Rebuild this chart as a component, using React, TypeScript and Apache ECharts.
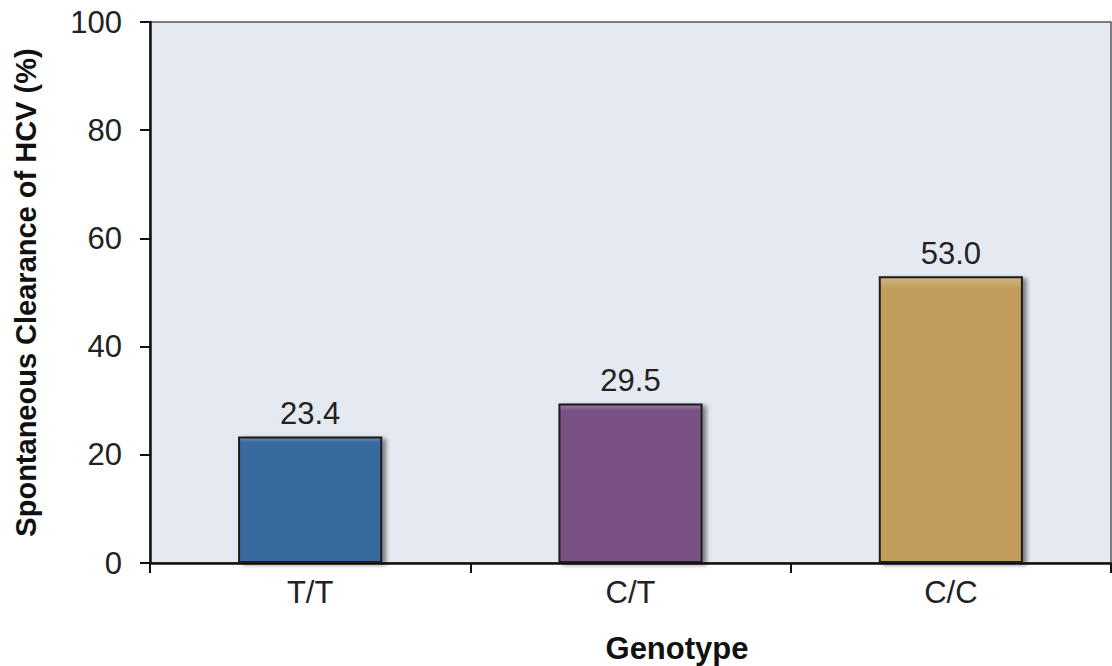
import React, { useEffect, useRef } from "react";
import * as echarts from "echarts";

const categories = ["T/T", "C/T", "C/C"];
const values = [23.4, 29.5, 53.0];
const barColors = ["#386a9f", "#7a5185", "#c19c5a"];
const yTicks = [0, 20, 40, 60, 80, 100];

const FONT = "Liberation Sans, Arial, sans-serif";

export default function App() {
  const ref = useRef<HTMLDivElement>(null);
  useEffect(() => {
    if (!ref.current) return;
    const chart = echarts.init(ref.current, null, { renderer: "svg" });
    chart.setOption({
      animation: false,
      backgroundColor: "#ffffff",
      grid: {
        left: 150,
        right: 1,
        top: 22,
        bottom: 103,
        show: true,
        backgroundColor: "#e5e9f1",
        borderColor: "#555555",
        borderWidth: 1.5,
      },
      xAxis: {
        type: "category",
        data: categories,
        axisLine: { lineStyle: { color: "#111", width: 2.5 } },
        axisTick: { show: true, length: 10, lineStyle: { color: "#111", width: 2 } },
        axisLabel: {
          color: "#222",
          fontSize: 31,
          fontFamily: FONT,
          margin: 14,
        },
      },
      yAxis: {
        type: "value",
        min: yTicks[0],
        max: yTicks[yTicks.length - 1],
        interval: 20,
        name: "Spontaneous Clearance of HCV (%)",
        nameLocation: "middle",
        nameGap: 110,
        nameTextStyle: {
          color: "#111",
          fontSize: 29,
          fontWeight: "bold",
          fontFamily: FONT,
        },
        axisLine: { show: true, lineStyle: { color: "#111", width: 2.5 } },
        axisTick: { show: true, length: 10, lineStyle: { color: "#111", width: 2 } },
        splitLine: { show: false },
        axisLabel: {
          color: "#222",
          fontSize: 31,
          fontFamily: FONT,
          margin: 28,
        },
      },
      series: [
        {
          type: "bar",
          barWidth: "45%",
          data: values.map((v, i) => ({
            value: v,
            itemStyle: {
              color: {
                type: "linear",
                x: 0,
                y: 0,
                x2: 0,
                y2: 1,
                colorStops: [
                  { offset: 0, color: echarts.color.lift(barColors[i], 0.25) },
                  { offset: 0.04, color: barColors[i] },
                  { offset: 1, color: barColors[i] },
                ],
              },
            },
          })),
          itemStyle: {
            borderColor: "#1a1a1a",
            borderWidth: 2,
            shadowColor: "rgba(0,0,0,0.45)",
            shadowBlur: 4,
            shadowOffsetX: 4,
            shadowOffsetY: 2,
          },
          label: {
            show: true,
            position: "top",
            distance: 7,
            formatter: (p: any) => Number(p.value).toFixed(1),
            color: "#222",
            fontSize: 31,
            fontFamily: FONT,
          },
        },
      ],
      graphic: [
        {
          type: "text",
          x: 677,
          y: 648,
          style: {
            text: "Genotype",
            fill: "#111",
            fontSize: 31,
            fontWeight: "bold",
            fontFamily: FONT,
            textAlign: "center",
            textVerticalAlign: "middle",
          },
        },
      ],
    });
    return () => chart.dispose();
  }, []);
  return (
    <div
      ref={ref}
      style={{ position: "fixed", left: 0, top: 0, width: 1112, height: 666 }}
    />
  );
}
